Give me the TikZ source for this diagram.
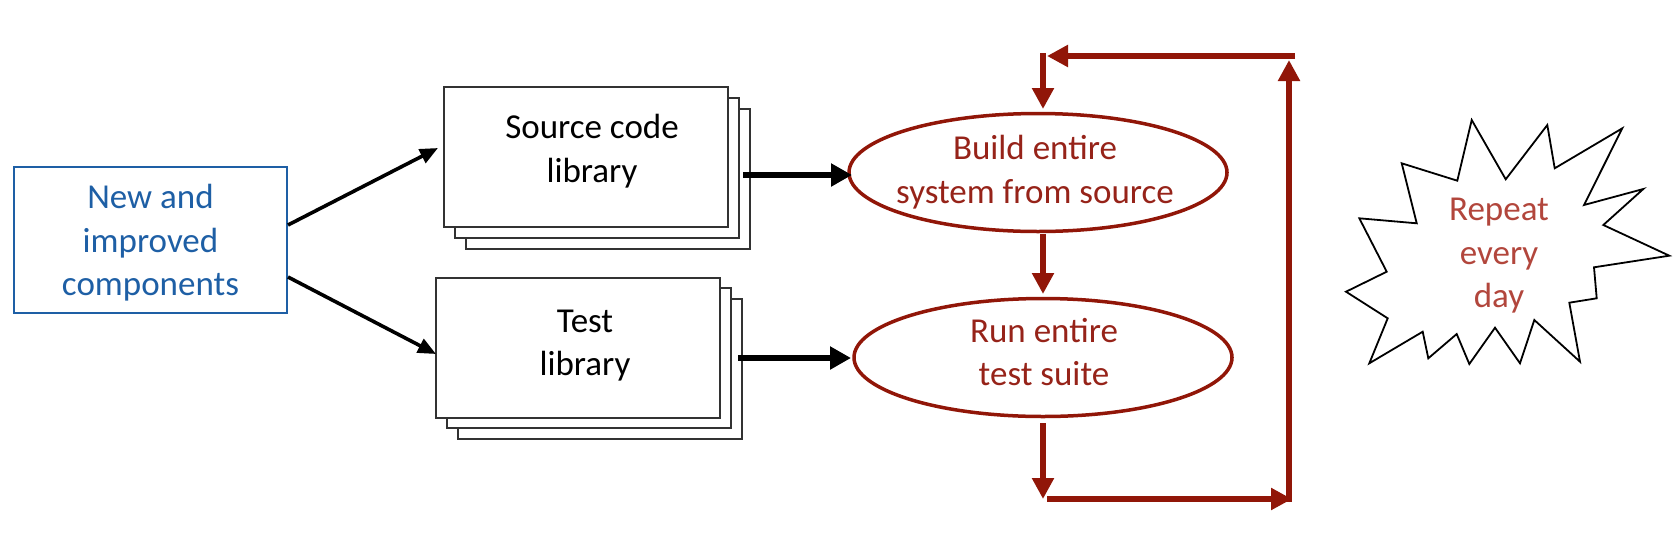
\documentclass[tikz,border=0pt]{standalone}
\usepackage{fontspec}
\setmainfont{Carlito}
\usetikzlibrary{arrows.meta,shapes.geometric}
\definecolor{cblue}{RGB}{30,95,165}
\definecolor{cred}{RGB}{145,22,8}
\definecolor{ctext}{RGB}{150,35,25}
\definecolor{crep}{RGB}{178,70,60}
\definecolor{cgray}{RGB}{50,50,50}
\begin{document}
\begin{tikzpicture}[x=1pt,y=-1pt,
  txt/.style={align=center,inner sep=0pt,font=\fontsize{35}{43.5}\selectfont},
  libbox/.style={draw=cgray,line width=2pt,fill=white,minimum width=284pt,minimum height=140pt,inner sep=0pt},
  blackarr/.style={line width=5.5pt,-{Triangle[length=21pt,width=22pt]}},
  diagarr/.style={line width=3.6pt,-{Triangle[length=18pt,width=15pt]}},
  redarr/.style={draw=cred,line width=5.5pt,-{Triangle[length=21pt,width=21pt]},fill=cred},
  oval/.style={ellipse,draw=cred,line width=3.5pt,inner sep=0pt,minimum width=378pt,minimum height=118pt}
]
\useasboundingbox (0,0) rectangle (1680,536);

% input box
\node[draw=cblue,line width=2.5pt,minimum width=273pt,minimum height=146pt,inner sep=0pt] (newbox) at (150.5,240) {};
\node[txt,text=cblue] (newtxt) at (150.5,243) {New and\\improved\\components};

% source code library stack
\node[libbox] (src3) at (607.5,179) {};
\node[libbox] (src2) at (597,168) {};
\node[libbox] (src) at (586,157) {};
\node[txt] (srctxt) at (592,151) {Source code\\library};

% test library stack
\node[libbox] (test3) at (599.5,369) {};
\node[libbox] (test2) at (588.5,358) {};
\node[libbox] (test) at (577.5,348) {};
\node[txt] (testtxt) at (585,345.5) {Test\\library};

% ellipses
\node[oval] (build) at (1038,172.5) {};
\node[txt,text=ctext] (buildtxt) at (1035,172) {Build entire\\system from source};
\node[oval] (run) at (1043,357.5) {};
\node[txt,text=ctext] (runtxt) at (1044,352) {Run entire\\test suite};

% starburst
\draw[line width=1.8pt,line join=miter,fill=white]
 (1471.7,120) -- (1505.7,179.3) -- (1547.3,125) -- (1554.7,168.3) -- (1622.3,128.3)
 -- (1584,205) -- (1643.3,189) -- (1603.3,225) -- (1669.3,255.7) -- (1594,267.3)
 -- (1596.7,298.3) -- (1569.3,302.7) -- (1580,361.7) -- (1534.3,320) -- (1520,363.3)
 -- (1495,327.7) -- (1469.3,364) -- (1456.7,334) -- (1428.3,358.3) -- (1422.7,331.7)
 -- (1369.3,363.3) -- (1387.7,318.3) -- (1346,291.7) -- (1386.7,271.7) -- (1359.3,218.3)
 -- (1416.7,223.3) -- (1401.7,163.3) -- (1457.3,180.7) -- cycle;
\node[txt,text=crep] (reptxt) at (1499,256) {Repeat\\every\\day};

% connector end points
\coordinate (newup) at (288,225);
\coordinate (srcin) at (438,148);
\coordinate (newdn) at (288,277);
\coordinate (testin) at (436,354);
\coordinate (srcout) at (743,175);
\coordinate (buildin) at (852,175);
\coordinate (testout) at (738,358);
\coordinate (runin) at (851,358);
\coordinate (buildout) at (1043,234);
\coordinate (runtop) at (1043,294);
\coordinate (runout) at (1043,423);
\coordinate (bl) at (1043,499);
\coordinate (blr) at (1047,499);
\coordinate (br) at (1292,499);
\coordinate (rbot) at (1289,502);
\coordinate (rtop) at (1289,60);
\coordinate (tr) at (1295,56);
\coordinate (tl) at (1047,56);
\coordinate (tld) at (1043,53);
\coordinate (buildtop) at (1043,109);

% black connectors
\draw[diagarr] (newup) -- (srcin);
\draw[diagarr] (newdn) -- (testin);
\draw[blackarr] (srcout) -- (buildin);
\draw[blackarr] (testout) -- (runin);

% red loop
\draw[redarr] (buildout) -- (runtop);
\draw[redarr] (runout) -- (bl);
\draw[redarr] (blr) -- (br);
\draw[redarr] (rbot) -- (rtop);
\draw[redarr] (tr) -- (tl);
\draw[redarr] (tld) -- (buildtop);
\end{tikzpicture}
\end{document}
